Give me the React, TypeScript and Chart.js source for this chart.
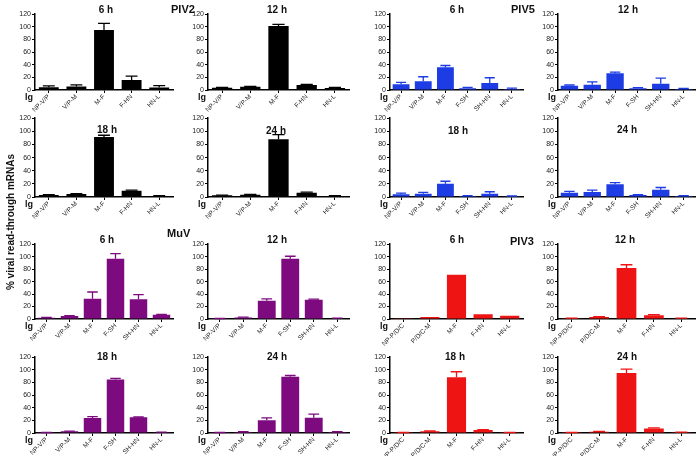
import React, { useEffect, useRef } from 'react';
import { Chart, registerables } from 'chart.js';
Chart.register(...registerables);

// ---------- categories ----------
const PIV2_CATS = ['NP-V/P', 'V/P-M', 'M-F', 'F-HN', 'HN-L'];
const PIV5_CATS = ['NP-V/P', 'V/P-M', 'M-F', 'F-SH', 'SH-HN', 'HN-L'];
const MUV_CATS = ['NP-V/P', 'V/P-M', 'M-F', 'F-SH', 'SH-HN', 'HN-L'];
const PIV3_CATS = ['NP-P/D/C', 'P/D/C-M', 'M-F', 'F-HN', 'HN-L'];
const Y_TICKS = [0, 20, 40, 60, 80, 100, 120];

// ---------- values (mean) and upper error (mean + SD) ----------
const PIV2_6H = [4.5, 5.5, 95, 16, 4];
const PIV2_6H_ERR = [6.5, 8, 105.5, 22, 6.8];
const PIV2_12H = [3.7, 5.3, 101.5, 7.9, 3.2];
const PIV2_12H_ERR = [4.2, 5.8, 104, 9, 4];
const PIV2_18H = [3.1, 4.7, 91.3, 9.4, 1.6];
const PIV2_18H_ERR = [3.6, 5.2, 94, 10.4, 2];
const PIV2_24H = [2.5, 3.5, 88, 6.5, 1.5];
const PIV2_24H_ERR = [3, 4, 95, 7.5, 2];

const PIV5_6H = [9, 14, 36, 2.6, 11, 1.6];
const PIV5_6H_ERR = [12, 21, 38.8, 4.2, 19.4, 3.1];
const PIV5_12H = [6.8, 8.4, 26.7, 2.6, 10, 1.6];
const PIV5_12H_ERR = [7.9, 13, 28.3, 3.7, 18.9, 2.6];
const PIV5_18H = [4, 5, 20, 1.5, 5, 1];
const PIV5_18H_ERR = [6, 7, 24, 2, 8, 1.5];
const PIV5_24H = [6.3, 7.7, 19.4, 2.9, 11.1, 1.5];
const PIV5_24H_ERR = [8.7, 10.6, 21.8, 3.4, 14.5, 2];

const MUV_6H = [2, 4.7, 32.3, 96.5, 31.8, 6.8];
const MUV_6H_ERR = [2.6, 5.2, 43.3, 104.9, 39, 7.3];
const MUV_12H = [0.5, 2.6, 29.2, 96.5, 30.8, 1];
const MUV_12H_ERR = [0.8, 3.1, 32.3, 100.7, 31.8, 1.5];
const MUV_18H = [0.5, 2.6, 23.8, 84.8, 24.8, 1];
const MUV_18H_ERR = [0.8, 3.1, 25.9, 86.4, 25.3, 1.5];
const MUV_24H = [0.5, 1.5, 20, 89, 24, 1.5];
const MUV_24H_ERR = [0.8, 2, 24, 91, 30, 2];

const PIV3_6H = [1.1, 3.2, 71, 7.6, 5.4];
const PIV3_6H_ERR = [1.1, 3.2, 71, 7.6, 5.4];
const PIV3_12H = [1.1, 3.2, 82, 6, 1];
const PIV3_12H_ERR = [1.4, 3.7, 87, 7, 1.3];
const PIV3_18H = [0.5, 2.7, 88.4, 4.9, 0.5];
const PIV3_18H_ERR = [0.8, 3.2, 97, 5.5, 0.8];
const PIV3_24H = [0.5, 2, 95, 7, 1];
const PIV3_24H_ERR = [0.8, 2.5, 101, 8, 1.3];

// ---------- colours ----------
const BLACK = '#000000';
const BLUE = '#1E3CE4';
const PURPLE = '#7E0A80';
const RED = '#EE1414';

// ---------- layout ----------
const COL_L = [35, 208, 390, 558];
const COL_R = [173, 349, 523, 695];
const ROW_T = [14, 118, 244, 357];
const ROW_B = [90, 197, 319, 433];

type PanelDef = {
  title: string; cats: string[]; values: number[]; err: number[]; color: string;
  row: number; col: number; tx: number; ty: number;
};

const PANELS: PanelDef[] = [
  { title: '6 h', cats: PIV2_CATS, values: PIV2_6H, err: PIV2_6H_ERR, color: BLACK, row: 0, col: 0, tx: 106, ty: 10 },
  { title: '12 h', cats: PIV2_CATS, values: PIV2_12H, err: PIV2_12H_ERR, color: BLACK, row: 0, col: 1, tx: 277, ty: 10 },
  { title: '18 h', cats: PIV2_CATS, values: PIV2_18H, err: PIV2_18H_ERR, color: BLACK, row: 1, col: 0, tx: 107, ty: 130 },
  { title: '24 h', cats: PIV2_CATS, values: PIV2_24H, err: PIV2_24H_ERR, color: BLACK, row: 1, col: 1, tx: 276, ty: 131 },
  { title: '6 h', cats: PIV5_CATS, values: PIV5_6H, err: PIV5_6H_ERR, color: BLUE, row: 0, col: 2, tx: 457, ty: 10 },
  { title: '12 h', cats: PIV5_CATS, values: PIV5_12H, err: PIV5_12H_ERR, color: BLUE, row: 0, col: 3, tx: 628, ty: 10 },
  { title: '18 h', cats: PIV5_CATS, values: PIV5_18H, err: PIV5_18H_ERR, color: BLUE, row: 1, col: 2, tx: 458, ty: 131 },
  { title: '24 h', cats: PIV5_CATS, values: PIV5_24H, err: PIV5_24H_ERR, color: BLUE, row: 1, col: 3, tx: 627, ty: 130 },
  { title: '6 h', cats: MUV_CATS, values: MUV_6H, err: MUV_6H_ERR, color: PURPLE, row: 2, col: 0, tx: 107, ty: 240 },
  { title: '12 h', cats: MUV_CATS, values: MUV_12H, err: MUV_12H_ERR, color: PURPLE, row: 2, col: 1, tx: 277, ty: 240 },
  { title: '18 h', cats: MUV_CATS, values: MUV_18H, err: MUV_18H_ERR, color: PURPLE, row: 3, col: 0, tx: 107, ty: 357 },
  { title: '24 h', cats: MUV_CATS, values: MUV_24H, err: MUV_24H_ERR, color: PURPLE, row: 3, col: 1, tx: 277, ty: 357 },
  { title: '6 h', cats: PIV3_CATS, values: PIV3_6H, err: PIV3_6H_ERR, color: RED, row: 2, col: 2, tx: 457, ty: 240 },
  { title: '12 h', cats: PIV3_CATS, values: PIV3_12H, err: PIV3_12H_ERR, color: RED, row: 2, col: 3, tx: 625, ty: 240 },
  { title: '18 h', cats: PIV3_CATS, values: PIV3_18H, err: PIV3_18H_ERR, color: RED, row: 3, col: 2, tx: 455, ty: 357 },
  { title: '24 h', cats: PIV3_CATS, values: PIV3_24H, err: PIV3_24H_ERR, color: RED, row: 3, col: 3, tx: 627, ty: 357 },
];

const GROUPS = [
  { label: 'PIV2', x: 171, y: 9 },
  { label: 'PIV5', x: 511, y: 9 },
  { label: 'MuV', x: 167, y: 233 },
  { label: 'PIV3', x: 510, y: 241 },
];

const FONT = "'Liberation Sans', Arial, sans-serif";
const PAD_L = 30;
const PAD_T = 5;
const PAD_R = 3;
const PAD_B = 40;

function Panel({ p }: { p: PanelDef }) {
  const ref = useRef<HTMLCanvasElement | null>(null);
  const left = COL_L[p.col];
  const right = COL_R[p.col];
  const top = ROW_T[p.row];
  const bottom = ROW_B[p.row];
  const W = right - left + PAD_L + PAD_R;
  const H = bottom - top + PAD_T + PAD_B;

  useEffect(() => {
    if (!ref.current) return;
    const errPlugin = {
      id: 'errbars',
      afterDatasetsDraw(chart: any) {
        const ctx = chart.ctx;
        const meta = chart.getDatasetMeta(0);
        const ys = chart.scales.y;
        ctx.save();
        ctx.strokeStyle = p.color;
        ctx.lineWidth = 1.3;
        meta.data.forEach((bar: any, i: number) => {
          const e = p.err[i];
          if (e == null || e <= p.values[i]) return;
          const yTop = ys.getPixelForValue(e);
          const yv = ys.getPixelForValue(p.values[i]);
          const hw = bar.width * 0.3;
          ctx.beginPath();
          ctx.moveTo(bar.x, yv);
          ctx.lineTo(bar.x, yTop);
          ctx.moveTo(bar.x - hw, yTop);
          ctx.lineTo(bar.x + hw, yTop);
          ctx.stroke();
        });
        ctx.restore();
      },
    };
    const chart = new Chart(ref.current, {
      type: 'bar',
      data: {
        labels: p.cats,
        datasets: [{
          data: p.values,
          backgroundColor: p.color,
          borderWidth: 0,
          barPercentage: p.cats.length === 6 ? 0.76 : 0.72,
          categoryPercentage: 1.0,
        }],
      },
      options: {
        responsive: false,
        animation: false,
        devicePixelRatio: 1,
        layout: { padding: { top: PAD_T, right: PAD_R, left: 0, bottom: 0 } },
        plugins: { legend: { display: false }, tooltip: { enabled: false }, title: { display: false } },
        scales: {
          x: {
            afterFit: (s: any) => { s.height = PAD_B; },
            grid: { display: true, drawOnChartArea: false, drawTicks: true, tickLength: 3, color: '#000', offset: false, lineWidth: 1 },
            border: { display: true, color: '#000', width: 1.5 },
            ticks: {
              autoSkip: false, minRotation: 45, maxRotation: 45, padding: 0,
              color: '#222', font: { family: FONT, size: 6.5 },
            },
          },
          y: {
            min: 0, max: 120,
            afterFit: (s: any) => { s.width = PAD_L; },
            afterBuildTicks: (s: any) => { s.ticks = Y_TICKS.map((v) => ({ value: v })); },
            grid: { display: true, drawOnChartArea: false, drawTicks: true, tickLength: 3, color: '#000', lineWidth: 1 },
            border: { display: true, color: '#000', width: 1.5 },
            ticks: { padding: 1, color: '#222', font: { family: FONT, size: 7 } },
          },
        },
      },
      plugins: [errPlugin],
    } as any);
    return () => chart.destroy();
  }, []);

  return (
    <canvas
      ref={ref}
      width={W}
      height={H}
      style={{ position: 'absolute', left: left - PAD_L, top: top - PAD_T, width: W, height: H }}
    />
  );
}

export default function App() {
  return (
    <div style={{ position: 'fixed', left: 0, top: 0, width: 696, height: 456, background: '#fff', fontFamily: FONT, overflow: 'hidden' }}>
      {PANELS.map((p, i) => <Panel key={i} p={p} />)}
      {PANELS.map((p, i) => (
        <div key={'t' + i} style={{ position: 'absolute', left: p.tx - 30, top: p.ty - 7, width: 60, textAlign: 'center', fontWeight: 'bold', fontSize: 10, lineHeight: '14px', color: '#111' }}>
          {p.title}
        </div>
      ))}
      {PANELS.map((p, i) => (
        <div key={'l' + i} style={{ position: 'absolute', left: COL_L[p.col] - 10, top: ROW_B[p.row] + 2, fontWeight: 'bold', fontSize: 9, lineHeight: '10px', color: '#111' }}>
          lg
        </div>
      ))}
      {GROUPS.map((g, i) => (
        <div key={'g' + i} style={{ position: 'absolute', left: g.x, top: g.y - 7, fontWeight: 'bold', fontSize: 11, lineHeight: '14px', color: '#111' }}>
          {g.label}
        </div>
      ))}
      <div style={{ position: 'absolute', left: 11 - 100, top: 222 - 7, width: 200, height: 14, textAlign: 'center', transform: 'rotate(-90deg)', fontWeight: 'bold', fontSize: 10, lineHeight: '14px', color: '#111', whiteSpace: 'nowrap' }}>
        % viral read-through mRNAs
      </div>
    </div>
  );
}
